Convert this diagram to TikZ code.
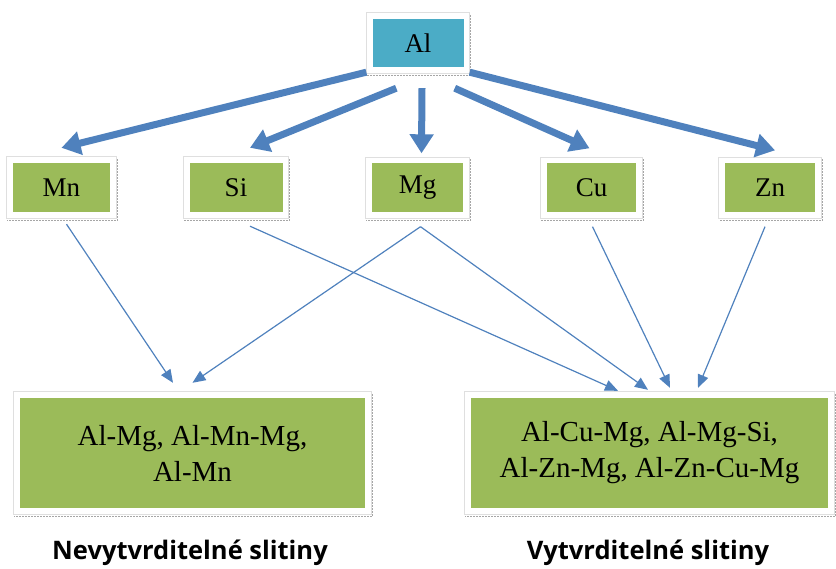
\documentclass[tikz,border=0pt]{standalone}
\usepackage{fontspec}
\setmainfont{Liberation Serif}
\newfontfamily\labfont{Open Sans}
\usetikzlibrary{arrows.meta,backgrounds}
\definecolor{boxgreen}{HTML}{9BBB59}
\definecolor{alteal}{HTML}{4BACC6}
\definecolor{arrblue}{HTML}{4F81BD}
\tikzset{
  elem/.style={fill=boxgreen, minimum width=93pt, minimum height=49pt, inner sep=0pt, font=\fontsize{27}{30}\selectfont},
  alloy/.style={fill=boxgreen, minimum height=110pt, inner sep=0pt, align=center, font=\fontsize{29}{36}\selectfont},
  thickarrow/.style={draw=arrblue, line width=7pt, -{Triangle[length=19pt,width=23pt]}},
  thinarrow/.style={draw=arrblue, line width=1.2pt, -{Triangle[length=13pt,width=11pt]}},
  framebox/.style={fill=white, draw=gray!25, line width=0.8pt},
  shadowline/.style={draw=gray!70, line width=1.2pt, dash pattern=on 2pt off 1pt},
  grouplabel/.style={font=\labfont\bfseries\fontsize{25.5}{29}\selectfont, inner sep=0pt},
}
\newcommand\myframe[1]{%
  \draw[framebox] ([shift={(-6pt,6pt)}]#1.north west) rectangle ([shift={(6pt,-6pt)}]#1.south east);
  \draw[shadowline] ([shift={(7pt,4pt)}]#1.north east) -- ([shift={(7pt,-8pt)}]#1.south east) -- ([shift={(-6pt,-8pt)}]#1.south west);
}
\begin{document}
\begin{tikzpicture}[x=1pt,y=-1pt]
\useasboundingbox (0,0) rectangle (836,569);
% nodes
\node[elem, fill=alteal, minimum width=91pt, minimum height=48pt] (Al) at (418,43) {Al};
\node[elem, minimum width=97pt] (Mn) at (61.5,187.5) {Mn};
\node[elem] (Si) at (236,187.5) {Si};
\node[elem, minimum width=91pt] (Mg) at (417.5,188) {Mg};
\node[elem, minimum width=89pt] (Cu) at (591.5,188) {Cu};
\node[elem, minimum width=90pt] (Zn) at (770,188) {Zn};
\node[alloy, minimum width=345pt] (L) at (192.5,453) {Al-Mg, Al-Mn-Mg,\\Al-Mn};
\node[alloy, minimum width=357pt] (R) at (649.5,453) {Al-Cu-Mg, Al-Mg-Si,\\Al-Zn-Mg, Al-Zn-Cu-Mg};
\node[grouplabel] (LL) at (190,553) {Nevytvrditelné slitiny};
\node[grouplabel] (RL) at (648,553) {Vytvrditelné slitiny};
\begin{pgfonlayer}{background}
  \myframe{Al}\myframe{Mn}\myframe{Si}\myframe{Mg}\myframe{Cu}\myframe{Zn}\myframe{L}\myframe{R}
\end{pgfonlayer}
% thick arrows
\draw[thickarrow] ([shift={(-6pt,-5pt)}]Al.south west) -- ([yshift=15pt]Mn.north);
\draw[thickarrow] ([shift={(24pt,-21pt)}]Al.south west) -- ([shift={(14pt,15pt)}]Si.north);
\draw[thickarrow] ([shift={(4pt,-21pt)}]Al.south) -- ([shift={(4pt,10pt)}]Mg.north);
\draw[thickarrow] ([shift={(-9pt,-21pt)}]Al.south east) -- ([shift={(-2pt,15pt)}]Cu.north);
\draw[thickarrow] ([shift={(6pt,-5pt)}]Al.south east) -- ([shift={(5pt,13pt)}]Zn.north);
% thin arrows
\draw[thinarrow] ([shift={(5pt,-12pt)}]Mn.south) -- ([shift={(-19.5pt,15pt)}]L.north);
\draw[thinarrow] ([shift={(3pt,-14pt)}]Mg.south) -- ([shift={(0pt,15pt)}]L.north);
\draw[thinarrow] ([shift={(14pt,-14pt)}]Si.south) -- ([shift={(-31.5pt,7pt)}]R.north);
\draw[thinarrow] ([shift={(3pt,-14pt)}]Mg.south) -- ([shift={(-1.5pt,8pt)}]R.north);
\draw[thinarrow] ([shift={(1pt,-14pt)}]Cu.south) -- ([shift={(20.5pt,10pt)}]R.north);
\draw[thinarrow] ([shift={(-5pt,-14pt)}]Zn.south) -- ([shift={(48.5pt,10pt)}]R.north);
\end{tikzpicture}
\end{document}
